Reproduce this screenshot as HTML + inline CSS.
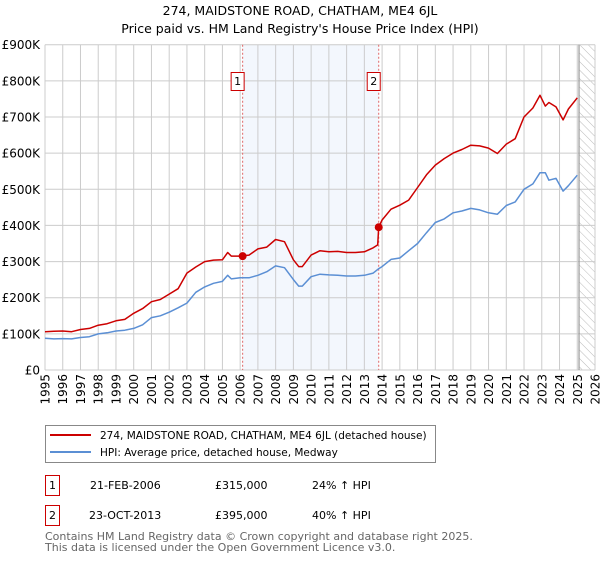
<!DOCTYPE html>
<html><head><meta charset="utf-8"><style>
body{margin:0;background:#fff;font-family:"DejaVu Sans","Liberation Sans",sans-serif;}
svg text{font-family:"DejaVu Sans","Liberation Sans",sans-serif;}
</style></head><body>
<svg id="c" width="600" height="560" viewBox="0 0 600 560" xmlns="http://www.w3.org/2000/svg">
<defs><pattern id="hatch" width="6" height="6" patternUnits="userSpaceOnUse" patternTransform="rotate(-45)"><line x1="0" y1="0" x2="0" y2="6" stroke="#bbb" stroke-width="1"/></pattern></defs>
<text x="300" y="15" text-anchor="middle" font-size="12.5" fill="#000">274, MAIDSTONE ROAD, CHATHAM, ME4 6JL</text>
<text x="300" y="33" text-anchor="middle" font-size="12.5" fill="#000">Price paid vs. HM Land Registry's House Price Index (HPI)</text>
<g id="plot"></g>
<g>
<rect x="45.5" y="425.5" width="390" height="37" fill="#fff" stroke="#888"/>
<line x1="50" y1="435" x2="91" y2="435" stroke="#cc0000" stroke-width="2"/>
<text x="100" y="439" font-size="10.5">274, MAIDSTONE ROAD, CHATHAM, ME4 6JL (detached house)</text>
<line x1="50" y1="452" x2="91" y2="452" stroke="#5b8fd4" stroke-width="2"/>
<text x="100" y="456" font-size="10.5">HPI: Average price, detached house, Medway</text>
</g>
<g font-size="11">
<rect x="45.5" y="475.5" width="14" height="20" fill="#fff" stroke="#cc0000"/>
<text x="52.5" y="489" text-anchor="middle">1</text>
<text x="90" y="489">21-FEB-2006</text>
<text x="215" y="489">£315,000</text>
<text x="312" y="489">24% ↑ HPI</text>
<rect x="45.5" y="505.5" width="14" height="20" fill="#fff" stroke="#cc0000"/>
<text x="52.5" y="519" text-anchor="middle">2</text>
<text x="89" y="519">23-OCT-2013</text>
<text x="215" y="519">£395,000</text>
<text x="312" y="519">40% ↑ HPI</text>
</g>
<text x="45" y="540" font-size="11" fill="#666">Contains HM Land Registry data © Crown copyright and database right 2025.</text>
<text x="45" y="551" font-size="11" fill="#666">This data is licensed under the Open Government Licence v3.0.</text>
</svg>
<script>
const hpiYears=[1995,1995.5,1996,1996.5,1997,1997.5,1998,1998.5,1999,1999.5,2000,2000.5,2001,2001.5,2002,2002.5,2003,2003.5,2004,2004.5,2005,2005.3,2005.5,2006,2006.5,2007,2007.5,2008,2008.5,2009,2009.3,2009.5,2010,2010.5,2011,2011.5,2012,2012.5,2013,2013.5,2013.8,2014,2014.5,2015,2015.5,2016,2016.5,2017,2017.5,2018,2018.5,2019,2019.5,2020,2020.5,2021,2021.5,2022,2022.5,2022.9,2023.2,2023.4,2023.8,2024.2,2024.5,2025];
const hpiValues=[88,86,87,86,90,92,100,103,108,110,115,125,145,150,160,172,185,215,230,240,245,262,252,255,255,262,272,288,283,250,232,232,258,265,263,262,260,260,262,268,280,286,306,310,330,350,380,408,418,435,440,447,443,435,431,455,465,500,515,546,546,525,530,495,510,539];
const redYears=[1995,1995.5,1996,1996.5,1997,1997.5,1998,1998.5,1999,1999.5,2000,2000.5,2001,2001.5,2002,2002.5,2003,2003.5,2004,2004.5,2005,2005.3,2005.5,2006,2006.5,2007,2007.5,2008,2008.5,2009,2009.3,2009.5,2010,2010.5,2011,2011.5,2012,2012.5,2013,2013.5,2013.75,2013.81,2014,2014.5,2015,2015.5,2016,2016.5,2017,2017.5,2018,2018.5,2019,2019.5,2020,2020.5,2021,2021.5,2022,2022.5,2022.9,2023.2,2023.4,2023.8,2024.2,2024.5,2025];
const redValues=[106,107,108,106,112,115,124,128,136,140,157,170,189,195,210,225,268,285,300,304,305,325,315,315,318,335,340,361,355,305,286,286,318,330,327,328,325,325,327,338,346,395,415,445,456,470,505,540,567,585,600,610,622,620,614,599,625,640,700,725,760,730,740,728,692,722,753];
const sales=[{label:"1",year:2006.14,value:315},{label:"2",year:2013.81,value:395}];
const yTicks=[0,100,200,300,400,500,600,700,800,900];
const yTickLabels=["£0","£100K","£200K","£300K","£400K","£500K","£600K","£700K","£800K","£900K"];
const xTicks=[1995,1996,1997,1998,1999,2000,2001,2002,2003,2004,2005,2006,2007,2008,2009,2010,2011,2012,2013,2014,2015,2016,2017,2018,2019,2020,2021,2022,2023,2024,2025,2026];

const L=45,R=595,T=44.7,B=370,X0=1995,X1=2026,YMAX=900;
const sx=v=>L+(v-X0)/(X1-X0)*(R-L);
const sy=v=>B-v/YMAX*(B-T);
const NS="http://www.w3.org/2000/svg";
const g=document.getElementById('plot');
function mk(t,a){const e=document.createElementNS(NS,t);for(const k in a)e.setAttribute(k,a[k]);g.appendChild(e);return e;}

let e=mk('rect',{x:sx(sales[0].year),y:T,width:sx(sales[1].year)-sx(sales[0].year),height:B-T,fill:'#eef3fc',opacity:0.7});


e=mk('rect',{x:sx(2025.1),y:T,width:R-sx(2025.1),height:B-T,fill:'url(#hatch)'});


xTicks.forEach(t=>{const l=mk('line',{x1:sx(t),x2:sx(t),y1:T,y2:B,stroke:'#cccccc','stroke-width':1});


const tx=mk('text',{x:0,y:0,'font-size':12,'text-anchor':'end',transform:`translate(${sx(t)+4.5},374) rotate(-90)`});tx.textContent=t;

});
yTicks.forEach((t,i)=>{const l=mk('line',{x1:L,x2:R,y1:sy(t),y2:sy(t),stroke:'#cccccc','stroke-width':1});


const tx=mk('text',{x:40,y:sy(t)+4.5,'font-size':12,'text-anchor':'end'});tx.textContent=yTickLabels[i];

});
e=mk('line',{x1:sx(2025.1),x2:sx(2025.1),y1:T,y2:B,stroke:'#999','stroke-width':1.2});


sales.forEach(s=>{const l=mk('line',{x1:sx(s.year),x2:sx(s.year),y1:T,y2:B,stroke:'#e06666','stroke-width':1,'stroke-dasharray':'2,2'});


const r=mk('rect',{x:sx(s.year)-11.5,y:72.5,width:13,height:18,fill:'#fff',stroke:'#cc0000'});


const t=mk('text',{x:sx(s.year)-5,y:85,'font-size':11,'text-anchor':'middle'});t.textContent=s.label;

});
function path(xs,vs){return xs.map((x,i)=>(i?'L':'M')+sx(x).toFixed(1)+','+sy(vs[i]).toFixed(1)).join('');}
e=mk('path',{d:path(hpiYears,hpiValues),fill:'none',stroke:'#5b8fd4','stroke-width':1.5,'stroke-linejoin':'round'});


e=mk('path',{d:path(redYears,redValues),fill:'none',stroke:'#cc0000','stroke-width':1.5,'stroke-linejoin':'round'});


sales.forEach(s=>{const c=mk('circle',{cx:sx(s.year),cy:sy(s.value),r:4,fill:'#cc0000'});

});
</script>
</body></html>
